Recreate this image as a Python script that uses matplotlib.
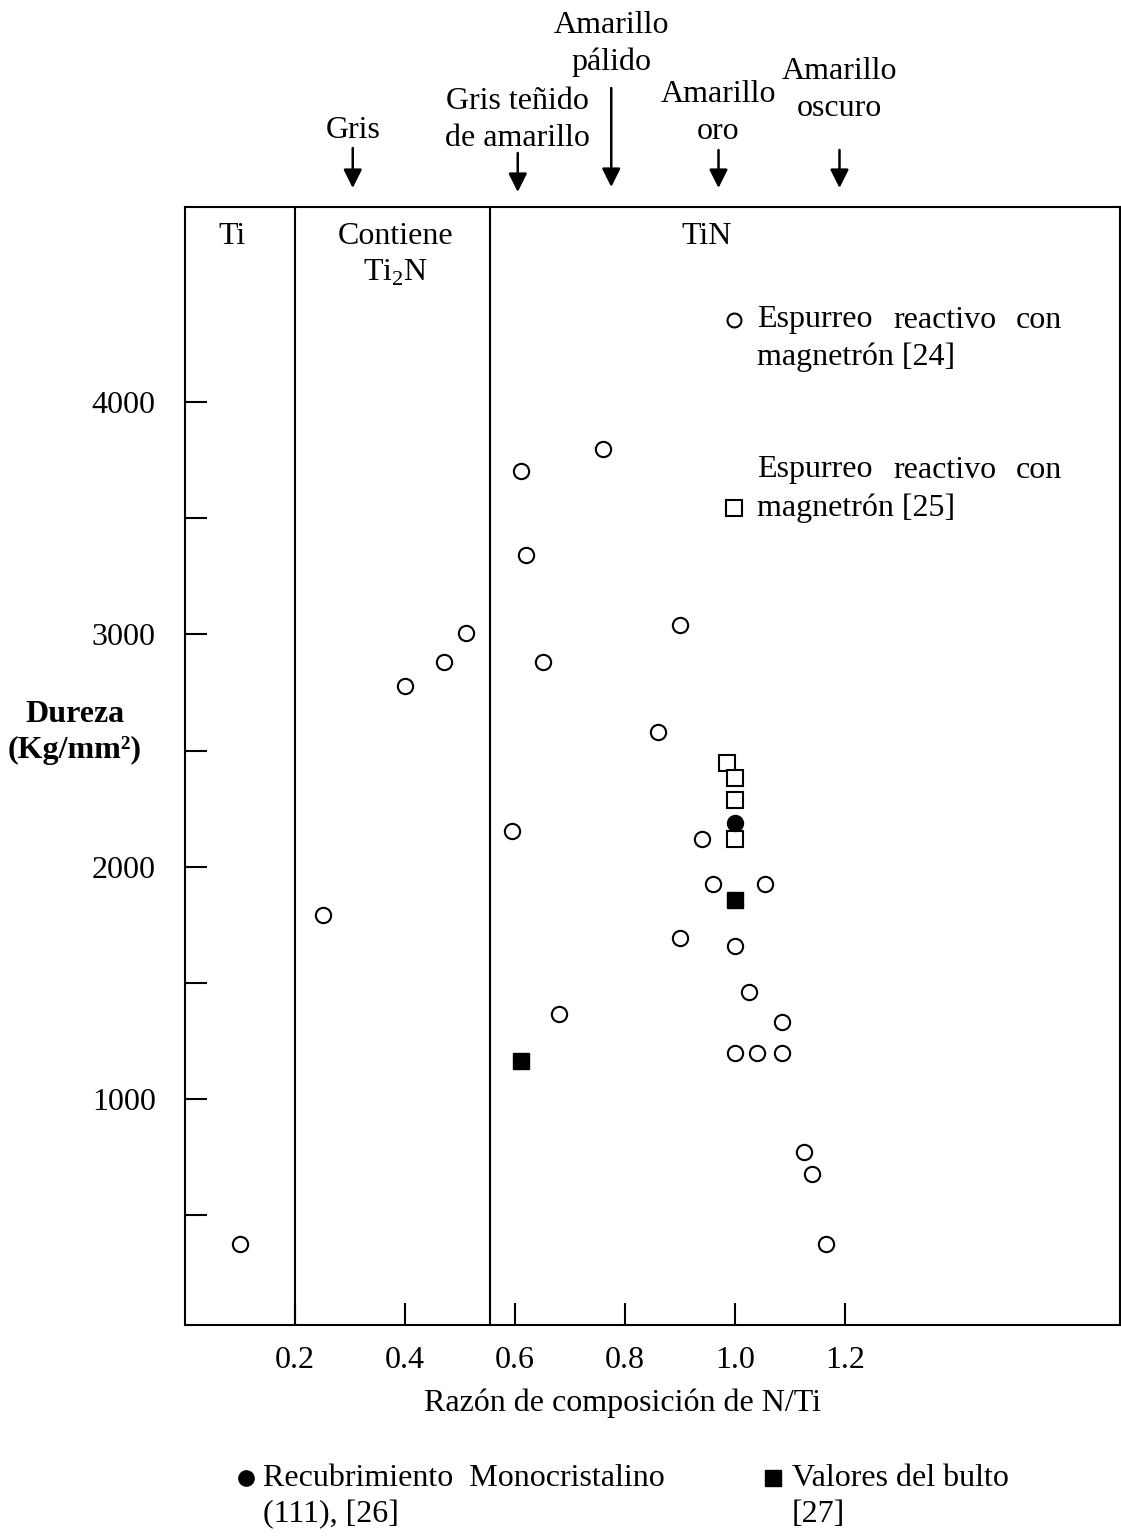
import matplotlib.pyplot as plt
import matplotlib.transforms as mtransforms

plt.rcParams['font.family'] = ['Liberation Serif', 'DejaVu Serif']
plt.rcParams['mathtext.fontset'] = 'custom'
plt.rcParams['mathtext.rm'] = 'Liberation Serif'
plt.rcParams['mathtext.bf'] = 'Liberation Serif:bold'

# -----------------------------
# Data
# -----------------------------
# Espurreo reactivo con magnetron [24]  (open circles)
ref24_x = [0.10, 0.25, 0.40, 0.47, 0.51, 0.61, 0.76, 0.62, 0.65, 0.90,
           0.86, 0.595, 0.94, 0.96, 1.055, 0.90, 1.00, 1.025, 0.68, 1.085,
           1.00, 1.04, 1.085, 1.125, 1.14, 1.165]
ref24_y = [375, 1790, 2780, 2880, 3005, 3705, 3800, 3340, 2880, 3040,
           2580, 2155, 2120, 1925, 1925, 1695, 1660, 1460, 1365, 1330,
           1200, 1200, 1200, 770, 675, 375]

# Espurreo reactivo con magnetron [25]  (open squares)
ref25_x = [0.985, 1.00, 1.00, 1.00]
ref25_y = [2445, 2380, 2285, 2120]

# Recubrimiento monocristalino (111) [26]  (filled circle)
ref26_x = [1.00]
ref26_y = [2190]

# Valores del bulto [27]  (filled squares)
ref27_x = [1.00, 0.61]
ref27_y = [1855, 1165]

# phase boundaries
boundaries = [0.2, 0.555]

# colour annotations on top
colour_x = [0.305, 0.605, 0.775, 0.97, 1.19]
colour_labels = ['Gris', 'Gris teñido\nde amarillo', 'Amarillo\npálido',
                 'Amarillo\noro', 'Amarillo\noscuro']

xticks = [0.2, 0.4, 0.6, 0.8, 1.0, 1.2]
xticklabels = ['0.2', '0.4', '0.6', '0.8', '1.0', '1.2']
yticks = [500, 1000, 1500, 2000, 2500, 3000, 3500, 4000]
yticklabels = ['', '1000', '', '2000', '', '3000', '', '4000']

# -----------------------------
# Figure
# -----------------------------
W, H = 1121, 1537
fig = plt.figure(figsize=(W / 100, H / 100), dpi=100)


def fx(px):
    return px / W


def fy(py):
    return 1 - py / H


ax = fig.add_axes([fx(185), fy(1325), fx(1120) - fx(185), fy(207) - fy(1325)])
ax.set_xlim(0.0, 1.70)
ax.set_ylim(27, 4840)

fs = 23

for b in boundaries:
    ax.axvline(b, color='k', lw=1.5)

ax.plot(ref24_x, ref24_y, 'o', ms=11, mfc='white', mec='k', mew=1.5, ls='none')
ax.plot(ref25_x, ref25_y, 's', ms=11.5, mfc='white', mec='k', mew=1.5, ls='none')
ax.plot(ref26_x, ref26_y, 'o', ms=11.5, mfc='k', mec='k', ls='none')
ax.plot(ref27_x, ref27_y, 's', ms=12, mfc='k', mec='k', ls='none')

ax.set_xticks(xticks)
ax.set_xticklabels(xticklabels, fontsize=fs)
ax.set_yticks(yticks)
ax.set_yticklabels(yticklabels, fontsize=fs)
ax.tick_params(axis='both', direction='in', length=16, width=1.5)
ax.tick_params(axis='x', pad=15)
ax.tick_params(axis='y', pad=21)
for sp in ax.spines.values():
    sp.set_linewidth(1.5)

# region labels
ax.text(0.085, 4715, 'Ti', fontsize=fs, ha='center', va='center')
ax.text(0.383, 4715, 'Contiene', fontsize=fs, ha='center', va='center')
ax.text(0.383, 4555, 'Ti$_2$N', fontsize=fs, ha='center', va='center')
ax.text(0.948, 4715, 'TiN', fontsize=fs, ha='center', va='center')

# axis labels
fig.text(fx(623), fy(1403), 'Razón de composición de N/Ti', fontsize=fs,
         ha='center', va='center')
fig.text(fx(75), fy(714), 'Dureza', fontsize=fs, fontweight='bold',
         ha='center', va='center')
fig.text(fx(75), fy(750), '(Kg/mm²)', fontsize=fs, fontweight='bold',
         ha='center', va='center')

# colour annotations with arrows
blend = mtransforms.blended_transform_factory(ax.transData, fig.transFigure)
text_y = [130, 120, 44, 113, 90]
arrow_top = [148, 153, 88, 150, 150]
arrow_bot = [188, 192, 187, 188, 188]
for x, lab, ty, a0, a1 in zip(colour_x, colour_labels, text_y, arrow_top, arrow_bot):
    ax.text(x, fy(ty), lab, transform=blend, fontsize=fs, ha='center',
            va='center', linespacing=1.35)
    ax.annotate('', xy=(x, fy(a1)), xycoords=blend,
                xytext=(x, fy(a0)), textcoords=blend,
                arrowprops=dict(arrowstyle='-|>', color='k', lw=1.8,
                                mutation_scale=28, shrinkA=0, shrinkB=0))

# legend inside the plot
ax.plot([fx(734)], [fy(320)], 'o', transform=fig.transFigure, clip_on=False,
        ms=10, mfc='white', mec='k', mew=1.5)
ax.plot([fx(734)], [fy(508)], 's', transform=fig.transFigure, clip_on=False,
        ms=11, mfc='white', mec='k', mew=1.5)
for ly in [320, 470]:
    fig.text(fx(757), fy(ly), 'Espurreo', fontsize=fs, va='center')
    fig.text(fx(893), fy(ly), 'reactivo', fontsize=fs, va='center')
    fig.text(fx(1062), fy(ly), 'con', fontsize=fs, va='center', ha='right')
fig.text(fx(757), fy(357), 'magnetrón [24]', fontsize=fs, va='center')
fig.text(fx(757), fy(508), 'magnetrón [25]', fontsize=fs, va='center')

# legend below the plot
ax.plot([fx(246)], [fy(1478)], 'o', transform=fig.transFigure, clip_on=False,
        ms=11, mfc='k', mec='k')
fig.text(fx(263), fy(1478), 'Recubrimiento  Monocristalino', fontsize=fs, va='center')
fig.text(fx(263), fy(1515), '(111), [26]', fontsize=fs, va='center')
ax.plot([fx(773)], [fy(1478)], 's', transform=fig.transFigure, clip_on=False,
        ms=11, mfc='k', mec='k')
fig.text(fx(792), fy(1478), 'Valores del bulto', fontsize=fs, va='center')
fig.text(fx(792), fy(1515), '[27]', fontsize=fs, va='center')

fig.savefig('out.png', dpi=100)
